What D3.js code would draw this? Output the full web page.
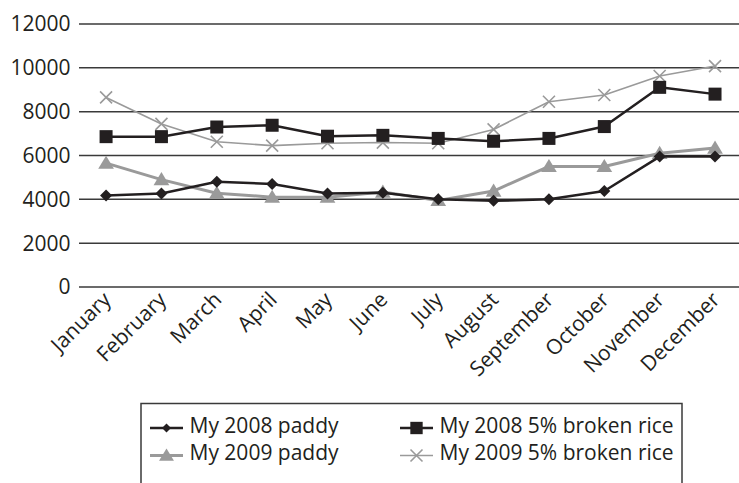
<!DOCTYPE html>
<html><head><meta charset="utf-8">
<script src="https://cdn.jsdelivr.net/npm/d3@7"></script>
<style>
html,body{margin:0;padding:0;background:#fff;}
svg{display:block;font-family:"Open Sans",sans-serif;}
</style></head>
<body>
<svg id="chart" width="739" height="483"></svg>
<script>
const months = ["January","February","March","April","May","June","July","August","September","October","November","December"];
const yTicks = [0,2000,4000,6000,8000,10000,12000];
const paddy2008 = [4180,4270,4800,4700,4270,4300,4000,3930,4000,4380,5950,5950];
const broken2008 = [6860,6860,7300,7380,6880,6920,6780,6650,6780,7320,9110,8800];
const paddy2009 = [5650,4900,4280,4100,4100,4330,3950,4380,5500,5500,6100,6340];
const broken2009 = [8650,7440,6630,6450,6560,6590,6560,7190,8450,8760,9630,10080];
const seriesNames = ["My 2008 paddy","My 2008 5% broken rice","My 2009 paddy","My 2009 5% broken rice"];

const BLACK = "#231f20", GRAY = "#9a9a9a";
const FS = 21;
const series = [
  {name: seriesNames[0], values: paddy2008, color: BLACK, width: 2.5, symbol: "diamond"},
  {name: seriesNames[1], values: broken2008, color: BLACK, width: 2.5, symbol: "square"},
  {name: seriesNames[2], values: paddy2009, color: GRAY, width: 3, symbol: "triangle"},
  {name: seriesNames[3], values: broken2009, color: GRAY, width: 1.6, symbol: "cross"}
];

const svg = d3.select("#chart");
const x = d3.scaleBand().domain(months).range([78.4, 742.7]).padding(0);
const cx = m => x(m) + x.bandwidth()/2;
const y = d3.scaleLinear().domain([0,12000]).range([287, 24]);

// gridlines
svg.append("g").selectAll("line").data(yTicks).join("line")
  .attr("x1", 79).attr("x2", 745)
  .attr("y1", d => y(d)).attr("y2", d => y(d))
  .attr("stroke", "#3a3a3a").attr("stroke-width", 1.5);

// y labels
svg.append("g").selectAll("text").data(yTicks).join("text")
  .attr("x", 70.5).attr("y", d => y(d)).attr("dy", "0.35em")
  .attr("text-anchor", "end").attr("font-size", FS).attr("fill", BLACK)
  .text(d => d);

// x labels
svg.append("g").selectAll("text").data(months).join("text")
  .attr("text-anchor", "end").attr("font-size", FS).attr("fill", BLACK)
  .attr("transform", d => `translate(${cx(d)+6},${301}) rotate(-45)`)
  .text(d => d);

function drawMarker(g, type, color, px, py, scale) {
  const s = scale || 1;
  if (type === "diamond") {
    const r = 6*s;
    g.append("path").attr("d", `M${px},${py-r}L${px+r},${py}L${px},${py+r}L${px-r},${py}Z`).attr("fill", color);
  } else if (type === "square") {
    const h = 6.5*s;
    g.append("rect").attr("x", px-h).attr("y", py-h).attr("width", 2*h).attr("height", 2*h).attr("fill", color);
  } else if (type === "triangle") {
    const h = 7.5*s;
    g.append("path").attr("d", `M${px},${py-h}L${px+h*1.05},${py+h*0.75}L${px-h*1.05},${py+h*0.75}Z`).attr("fill", color);
  } else if (type === "cross") {
    const h = 6*s;
    g.append("path").attr("d", `M${px-h},${py-h}L${px+h},${py+h}M${px-h},${py+h}L${px+h},${py-h}`)
      .attr("stroke", color).attr("stroke-width", 1.6).attr("fill", "none");
  }
}

const line = d3.line().x((d,i) => cx(months[i])).y(d => y(d));
const order = [3,2,1,0];
order.forEach(k => {
  const s = series[k];
  const g = svg.append("g");
  g.append("path").datum(s.values).attr("d", line)
    .attr("fill", "none").attr("stroke", s.color).attr("stroke-width", s.width)
    .attr("stroke-linejoin", "round");
  s.values.forEach((v,i) => drawMarker(g, s.symbol, s.color, cx(months[i]), y(v)));
});

// legend
const lg = svg.append("g");
lg.append("rect").attr("x", 141).attr("y", 403.5).attr("width", 541).attr("height", 100)
  .attr("fill", "#fff").attr("stroke", "#3a3a3a").attr("stroke-width", 1.5);
const legPos = [
  {x: 150, y: 428},
  {x: 400, y: 428},
  {x: 150, y: 455.5},
  {x: 400, y: 455.5}
];
series.forEach((s,i) => {
  const p = legPos[i];
  lg.append("line").attr("x1", p.x).attr("x2", p.x+33).attr("y1", p.y).attr("y2", p.y)
    .attr("stroke", s.color).attr("stroke-width", s.width);
  drawMarker(lg, s.symbol, s.color, p.x+16.5, p.y, s.symbol === "diamond" ? 0.75 : (s.symbol==="cross"?1:0.95));
  lg.append("text").attr("x", p.x+39.5).attr("y", p.y+4.5).attr("font-size", FS).attr("fill", BLACK)
    .text(s.name);
});
</script>
</body></html>
